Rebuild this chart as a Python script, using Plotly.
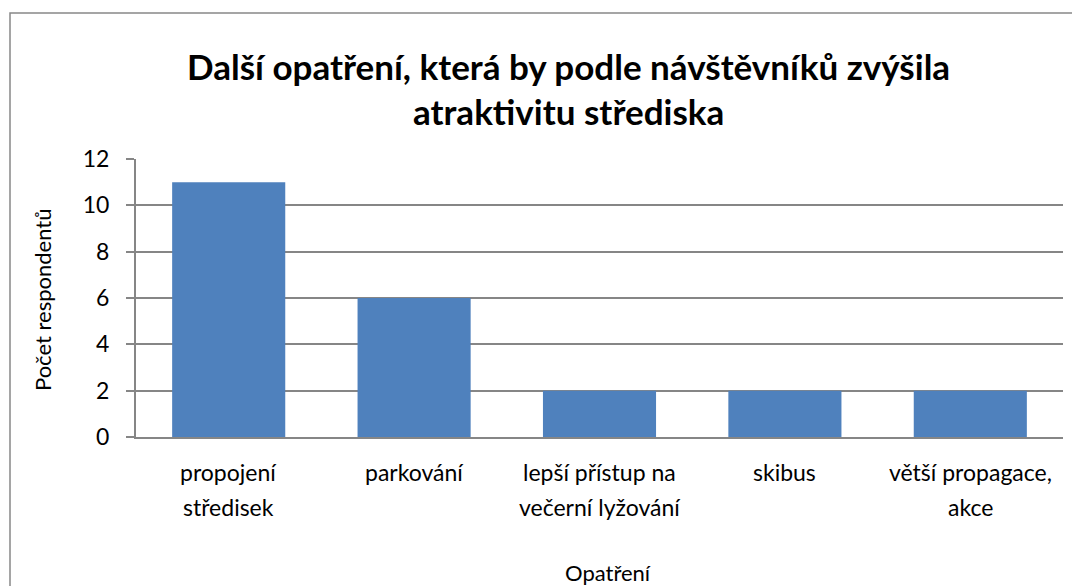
import plotly.graph_objects as go

categories = ["propojení<br>středisek", "parkování", "lepší přístup na<br>večerní lyžování", "skibus", "větší propagace,<br>akce"]
values = [11, 6, 2, 2, 2]
y_ticks = [0, 2, 4, 6, 8, 10, 12]
title_lines = ["Další opatření, která by podle návštěvníků zvýšila", "atraktivitu střediska"]
x_title = "Opatření"
y_title = "Počet respondentů"

FONT = "Lato"
OFF = 8  # page body margin
W, H = 1080 - OFF, 586 - OFF
L, T = 136 - OFF, 159 - OFF
R = W - (1063 - OFF)
B = H - (437 - OFF)
pw, ph = W - L - R, H - T - B
bottom_px = 437 - OFF  # plot bottom in figure px


def px_x(x):
    return (x - OFF - L) / pw


def px_y(y):
    return (bottom_px - (y - OFF)) / ph


fig = go.Figure(go.Bar(x=list(range(len(categories))), y=values, marker=dict(color="#4F81BD", line=dict(width=0))))

annotations = []
for i, c in enumerate(categories):
    for j, line in enumerate(c.split("<br>")):
        annotations.append(dict(x=i, y=0, xref="x", yref="paper", text=line, showarrow=False,
                                yanchor="middle", yshift=-(35 + 35 * j),
                                font=dict(family=FONT, size=23, color="#000")))
for j, line in enumerate(title_lines):
    annotations.append(dict(x=px_x(568), y=px_y(66 + 45 * j), xref="paper", yref="paper",
                            text="<b>" + line + "</b>", showarrow=False, yanchor="middle",
                            font=dict(family=FONT, size=35, color="#000")))
annotations.append(dict(x=px_x(608), y=px_y(572), xref="paper", yref="paper", text=x_title, showarrow=False,
                        yanchor="middle", font=dict(family=FONT, size=22, color="#000")))
annotations.append(dict(x=px_x(42), y=px_y(300), xref="paper", yref="paper", text=y_title,
                        showarrow=False, textangle=-90, xanchor="center", yanchor="middle",
                        font=dict(family=FONT, size=22, color="#000")))

fig.update_layout(
    width=W, height=H, margin=dict(l=L, r=R, t=T, b=B),
    paper_bgcolor="white", plot_bgcolor="white", bargap=0.39, showlegend=False,
    annotations=annotations,
    xaxis=dict(range=[-0.5, len(categories) - 0.5], showticklabels=False, ticks="", showgrid=False,
               showline=True, linecolor="#868686", linewidth=2, zeroline=False),
    yaxis=dict(range=[0, 12], tickvals=y_ticks, ticks="outside", ticklen=8, tickcolor="#868686", tickwidth=2,
               showgrid=True, gridcolor="#868686", gridwidth=1.5, showline=True, linecolor="#868686", linewidth=2,
               zeroline=False, tickfont=dict(family=FONT, size=23, color="#000"), ticklabelstandoff=12),
    shapes=[dict(type="rect", xref="paper", yref="paper",
                 x0=px_x(10), x1=px_x(1100), y0=px_y(600), y1=px_y(13),
                 line=dict(color="#888888", width=1.5), fillcolor="rgba(0,0,0,0)", layer="below")],
)
fig.write_html("out.html")
